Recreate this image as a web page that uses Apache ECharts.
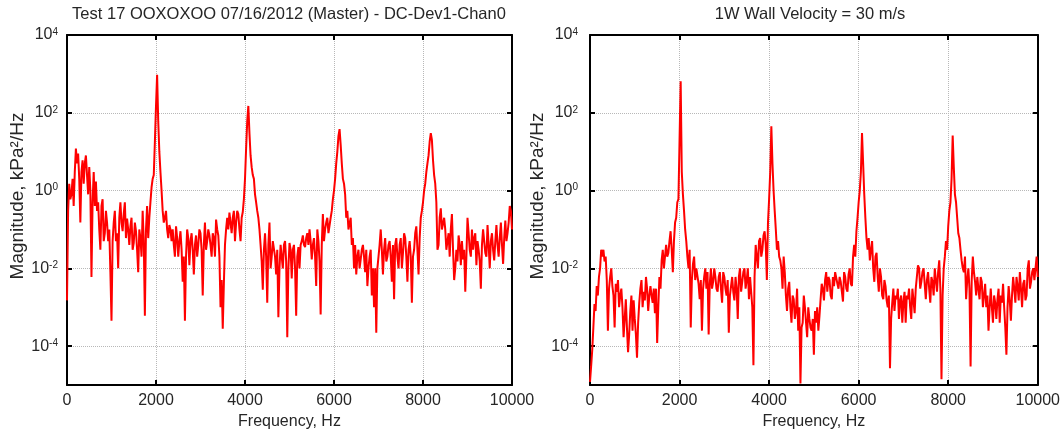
<!DOCTYPE html>
<html><head><meta charset="utf-8">
<script src="https://cdn.jsdelivr.net/npm/echarts@6/dist/echarts.min.js"></script>
<style>html,body{margin:0;padding:0;background:#fff}#c{width:1063px;height:435px}</style>
</head><body><div id="c"></div>
<script>
// Frequency grid (Hz)
const freqHz = [
  0,25,50,75,100,125,150,175,200,225,250,275,300,325,350,375,400,425,450,475,
  500,525,550,575,600,625,650,675,700,725,750,775,800,825,850,875,900,925,950,975,
  1000,1025,1050,1075,1100,1125,1150,1175,1200,1225,1250,1275,1300,1325,1350,1375,1400,1425,1450,1475,
  1500,1525,1550,1575,1600,1625,1650,1675,1700,1725,1750,1775,1800,1825,1850,1875,1900,1925,1950,1975,
  2000,2025,2050,2075,2100,2125,2150,2175,2200,2225,2250,2275,2300,2325,2350,2375,2400,2425,2450,2475,
  2500,2525,2550,2575,2600,2625,2650,2675,2700,2725,2750,2775,2800,2825,2850,2875,2900,2925,2950,2975,
  3000,3025,3050,3075,3100,3125,3150,3175,3200,3225,3250,3275,3300,3325,3350,3375,3400,3425,3450,3475,
  3500,3525,3550,3575,3600,3625,3650,3675,3700,3725,3750,3775,3800,3825,3850,3875,3900,3925,3950,3975,
  4000,4025,4050,4075,4100,4125,4150,4175,4200,4225,4250,4275,4300,4325,4350,4375,4400,4425,4450,4475,
  4500,4525,4550,4575,4600,4625,4650,4675,4700,4725,4750,4775,4800,4825,4850,4875,4900,4925,4950,4975,
  5000,5025,5050,5075,5100,5125,5150,5175,5200,5225,5250,5275,5300,5325,5350,5375,5400,5425,5450,5475,
  5500,5525,5550,5575,5600,5625,5650,5675,5700,5725,5750,5775,5800,5825,5850,5875,5900,5925,5950,5975,
  6000,6025,6050,6075,6100,6125,6150,6175,6200,6225,6250,6275,6300,6325,6350,6375,6400,6425,6450,6475,
  6500,6525,6550,6575,6600,6625,6650,6675,6700,6725,6750,6775,6800,6825,6850,6875,6900,6925,6950,6975,
  7000,7025,7050,7075,7100,7125,7150,7175,7200,7225,7250,7275,7300,7325,7350,7375,7400,7425,7450,7475,
  7500,7525,7550,7575,7600,7625,7650,7675,7700,7725,7750,7775,7800,7825,7850,7875,7900,7925,7950,7975,
  8000,8025,8050,8075,8100,8125,8150,8175,8200,8225,8250,8275,8300,8325,8350,8375,8400,8425,8450,8475,
  8500,8525,8550,8575,8600,8625,8650,8675,8700,8725,8750,8775,8800,8825,8850,8875,8900,8925,8950,8975,
  9000,9025,9050,9075,9100,9125,9150,9175,9200,9225,9250,9275,9300,9325,9350,9375,9400,9425,9450,9475,
  9500,9525,9550,9575,9600,9625,9650,9675,9700,9725,9750,9775,9800,9825,9850,9875,9900,9925,9950,9975,
  10000
];
// Left panel magnitude, kPa^2/Hz
const leftMag = [
  1.5e-3,0.3,1.5,0.6,0.8,2,0.4,3,12,5,9,2,0.15,3,6,1.5,5,8,2.5,0.8,
  4,1,6e-3,0.5,3,0.4,1.7,0.3,0.5,0.1,0.03,0.4,0.6,0.05,0.08,0.3,0.15,0.05,0.1,8e-3,
  4.5e-4,0.05,0.15,0.3,0.05,0.08,0.01,0.2,0.5,0.15,0.09,0.25,0.5,0.06,0.19,0.1,0.04,0.12,0.2,0.03,
  0.045,0.15,0.09,0.03,8e-3,0.1,0.06,0.02,0.3,0.05,6e-4,0.1,0.4,0.06,0.2,0.5,1.2,2,2.5,18,
  150,950,60,10,3,1,0.3,0.15,0.2,0.3,0.1,0.06,0.13,0.1,0.05,0.1,0.04,0.02,0.12,0.06,
  0.02,0.05,0.09,0.03,4.5e-3,0.02,4.5e-4,0.02,0.1,0.06,0.012,0.05,0.08,0.03,7e-3,0.04,0.07,0.02,0.04,0.1,
  0.08,0.03,2e-3,0.04,0.15,0.03,0.05,0.1,0.07,0.04,0.02,0.08,0.06,0.02,0.18,0.1,0.07,0.02,1e-3,5e-3,
  2.8e-4,4e-3,0.04,0.1,0.2,0.1,0.27,0.15,0.08,0.2,0.3,0.05,0.15,0.3,0.25,0.1,0.05,0.2,0.28,0.6,
  2,12,60,150,30,8,4,2.5,2,0.8,0.5,0.3,0.2,0.1,0.04,0.015,2.8e-3,0.03,0.08,0.02,
  1.3e-3,0.04,0.15,0.01,0.02,0.05,0.045,0.02,7e-3,0.03,5.5e-4,0.01,0.04,0.02,0.01,0.04,0.05,0.015,1.7e-4,0.01,
  0.045,0.03,5.5e-3,0.03,0.04,0.01,6e-4,0.02,0.035,0.01,0.04,0.05,0.07,0.04,0.035,0.06,0.08,0.04,0.1,0.05,
  0.017,0.04,0.06,0.02,3.5e-3,0.1,0.05,0.015,6.5e-4,0.04,0.25,0.05,0.1,0.15,0.2,0.08,0.09,0.2,0.3,0.6,
  1,2,5,10,25,38,15,5,2,1.5,0.8,0.2,0.3,0.1,0.09,0.2,0.04,0.06,0.01,0.04,
  7e-3,0.02,0.03,0.01,0.017,0.03,0.04,0.02,8e-3,0.03,3.5e-3,0.01,0.02,0.03,2e-3,0.01,1e-3,0.01,2.2e-4,0.01,
  0.02,0.04,0.1,0.03,7e-3,0.03,0.06,0.015,0.02,0.04,0.05,0.02,4.5e-3,0.04,1.6e-3,0.04,0.06,0.02,0.01,0.04,
  0.06,0.01,0.025,0.08,0.06,0.02,4.5e-3,0.03,0.05,0.02,1.3e-3,0.02,0.03,0.08,0.12,0.03,7e-3,0.06,0.2,0.3,
  0.5,1,1.5,3,5,8,18,30,20,6,2.5,1.5,0.5,0.03,0.04,0.2,0.35,0.1,0.1,0.2,
  0.1,0.03,0.05,0.08,0.02,0.1,0.25,0.03,5e-3,0.01,0.03,0.015,0.07,0.04,0.012,0.05,0.017,0.03,2.5e-3,0.02,
  0.2,0.08,0.03,0.02,0.1,0.03,0.06,0.08,0.012,0.05,0.03,0.015,3e-3,0.04,0.1,0.05,0.025,0.02,0.13,0.04,
  0.01,0.05,0.08,0.03,0.016,0.05,0.13,0.04,0.02,0.06,0.15,0.04,0.013,0.06,0.17,0.05,0.08,0.15,0.4,0.3,
  0.1
];
// Right panel magnitude, kPa^2/Hz
const rightMag = [
  1.2e-5,3e-5,8e-5,3e-4,1.2e-3,8e-4,3.5e-3,2e-3,6e-3,0.01,0.03,0.02,0.03,0.015,0.02,5e-3,2.5e-4,3e-3,6e-3,0.01,
  3.5e-3,2e-3,3e-4,4e-3,2.5e-3,5e-3,1e-3,2e-3,3e-3,1e-3,1.7e-4,5e-4,1.6e-3,3e-4,7e-5,2e-4,8e-4,2e-3,2.5e-4,1.5e-3,
  5e-4,2e-4,5e-5,4e-4,1.3e-3,3e-3,5e-3,1e-3,2.5e-3,1.5e-3,6e-3,3e-3,8e-4,2e-3,3.5e-3,2e-3,1.3e-3,3e-3,7e-4,3e-3,
  1.2e-4,1e-3,6e-3,3e-3,0.016,0.03,0.01,0.02,0.04,0.02,0.025,0.05,0.09,0.03,8e-3,0.05,0.15,0.2,0.5,0.6,
  20,650,3,0.8,0.3,0.1,0.05,0.02,0.01,0.03,3e-4,5e-3,0.013,0.02,5e-3,0.01,0.01,4e-3,1.6e-3,5e-3,
  2.5e-4,3e-3,6e-3,0.01,3e-3,8e-3,2e-4,4e-3,0.01,3e-3,4.5e-3,0.01,6e-3,3e-3,2.5e-3,6e-3,8e-3,3e-3,1.3e-3,8e-3,
  6e-3,3e-3,2e-3,5e-3,2.2e-4,2e-3,3.5e-3,6e-3,2.5e-3,1.5e-3,6e-3,3e-3,5e-4,6e-3,0.01,2.5e-3,4.5e-3,8e-3,0.01,3e-3,
  5e-3,0.01,1.6e-3,6e-3,6e-3,1e-3,3.2e-5,6e-3,0.04,0.02,0.01,0.05,0.06,0.02,0.03,0.07,0.09,0.04,5e-3,0.15,
  0.6,3,45,5,1,0.3,0.1,0.03,0.05,0.02,0.016,0.01,3e-3,0.02,8e-3,2e-3,8e-4,3e-3,4.5e-3,1e-3,
  4e-4,2e-3,1.6e-3,5e-4,8e-4,3e-3,2.5e-4,1e-3,1.1e-5,3e-4,4e-4,2e-3,1e-3,4e-4,1.7e-4,1e-3,5e-4,3e-4,2.5e-4,5e-4,
  6e-5,8e-4,4e-4,1e-3,2.5e-4,6e-4,1.6e-3,4e-3,3e-3,1.5e-3,5e-3,8e-3,2.5e-3,6e-3,5e-3,2e-3,1.6e-3,6e-3,3.5e-3,8e-3,
  8e-3,4e-3,3e-3,6e-3,4.5e-3,2.5e-3,1.4e-3,8e-3,6e-3,3e-3,2.5e-3,7e-3,0.01,4e-3,3.5e-3,0.02,0.04,0.02,0.09,0.2,
  0.5,1,3,30,5,0.8,0.2,0.06,0.03,0.06,0.016,0.03,0.05,0.01,4.5e-3,0.02,0.025,6e-3,2.5e-3,0.01,
  6e-3,2e-3,1.6e-3,5e-3,3.5e-3,1.5e-3,1e-3,2e-3,2.7e-5,5e-4,1.3e-3,3e-3,8e-4,2e-3,1.6e-3,3e-3,5e-4,1.5e-3,2e-3,4e-4,
  1.4e-3,2.5e-3,4e-4,2e-3,1.6e-3,3e-3,1e-3,5e-4,3e-3,1.5e-3,7e-4,3e-3,6e-3,0.012,0.01,3e-3,4.5e-3,8e-3,0.01,4e-3,
  1.6e-3,5e-3,8e-3,3e-3,1.3e-3,6e-3,4.5e-3,2e-3,0.01,5e-3,2.5e-3,8e-3,0.016,3e-3,1.4e-5,2e-3,0.01,0.02,0.05,0.03,
  0.12,0.3,0.5,2,26,4,0.8,0.5,0.2,0.08,0.06,0.03,0.016,0.01,8e-3,0.02,1.6e-3,5e-3,0.01,3e-3,
  3e-5,5e-3,0.02,8e-3,4.5e-3,2e-3,6e-3,3e-3,1.6e-3,6e-3,4.5e-3,1e-3,2e-3,4e-3,1e-3,2e-3,2.5e-4,1e-3,3e-3,1e-3,
  4e-4,2e-3,1.3e-3,5e-4,1.6e-3,3e-3,4e-4,2e-3,1.3e-3,4e-3,1e-3,3e-4,6e-5,1e-3,3.5e-3,1.5e-3,4.5e-4,2e-3,6e-3,3e-3,
  1.3e-3,6e-3,3.5e-3,1.5e-3,8e-3,3e-3,1e-3,4e-3,5e-3,1.5e-3,2e-3,0.01,0.016,3e-3,4.5e-3,8e-3,0.01,5e-3,0.01,0.02,
  6e-3
];
const xTickValues = [0, 2000, 4000, 6000, 8000, 10000];
const yTickValues = [1e-4, 1e-2, 1, 1e2, 1e4];
const leftTitle = 'Test 17 OOXOXOO 07/16/2012 (Master) - DC-Dev1-Chan0';
const rightTitle = '1W Wall Velocity = 30 m/s';
const xAxisName = 'Frequency, Hz';
const yAxisName = 'Magnitude, kPa\u00B2/Hz';

const FONT = '"Liberation Sans", Arial, sans-serif';
const TXT = '#262626';
const BLACK = '#000';
const GRIDC = '#b8b8b8';

function expLabel(v) {
  const e = Math.round(Math.log10(v));
  return '{b|10}{e|' + e + '}';
}

function xAxesFor(gi) {
  const common = {
    type: 'value', gridIndex: gi,
    min: xTickValues[0], max: xTickValues[xTickValues.length - 1],
    interval: xTickValues[1] - xTickValues[0],
    axisLine: { show: true, onZero: false, lineStyle: { color: BLACK, width: 2 } },
    axisTick: { show: true, inside: true, length: 5, lineStyle: { color: BLACK, width: 2 } }
  };
  return [
    Object.assign({}, common, {
      position: 'bottom',
      name: xAxisName, nameLocation: 'middle', nameGap: 29,
      nameTextStyle: { fontSize: 16, color: TXT, fontFamily: FONT },
      axisLabel: { show: true, margin: 8, fontSize: 16, color: TXT, fontFamily: FONT,
                   formatter: v => String(v) },
      splitLine: { show: true, lineStyle: { type: 'dotted', color: GRIDC, width: 1 } }
    }),
    Object.assign({}, common, {
      position: 'top',
      axisLabel: { show: false },
      splitLine: { show: false }
    })
  ];
}

function yAxesFor(gi, nameGap, labelMargin) {
  const common = {
    type: 'log', logBase: 10, gridIndex: gi, min: 1e-5, max: 1e4,
    axisLine: { show: true, onZero: false, lineStyle: { color: BLACK, width: 2 } },
    axisTick: { show: true, inside: true, length: 5, customValues: yTickValues,
                lineStyle: { color: BLACK, width: 2 } }
  };
  return [
    Object.assign({}, common, {
      position: 'left',
      name: yAxisName, nameLocation: 'middle', nameGap: nameGap, nameRotate: 90,
      nameTextStyle: { fontSize: 19, color: TXT, fontFamily: FONT, padding: [0, 0, 0, 28] },
      axisLabel: {
        show: true, margin: labelMargin, customValues: yTickValues, formatter: expLabel,
        rich: {
          b: { fontSize: 16, lineHeight: 16, color: TXT, fontFamily: FONT, verticalAlign: 'bottom' },
          e: { fontSize: 10, lineHeight: 7, color: TXT, fontFamily: FONT, verticalAlign: 'top' }
        }
      },
      splitLine: { show: true, lineStyle: { type: 'dotted', color: GRIDC, width: 1 } }
    }),
    Object.assign({}, common, {
      position: 'right',
      axisLabel: { show: false },
      splitLine: { show: false }
    })
  ];
}

function pairs(mags) { return freqHz.map((f, i) => [f, mags[i]]); }

const chart = echarts.init(document.getElementById('c'), null, { renderer: 'canvas' });
chart.setOption({
  animation: false,
  backgroundColor: '#fff',
  title: [
    { text: leftTitle, left: 289, top: 6, textAlign: 'center', padding: 0,
      textStyle: { fontSize: 16.5, fontWeight: 'normal', color: TXT, fontFamily: FONT } },
    { text: rightTitle, left: 810, top: 6, textAlign: 'center', padding: 0,
      textStyle: { fontSize: 16.5, fontWeight: 'normal', color: TXT, fontFamily: FONT } }
  ],
  grid: [
    { left: 67, top: 35, width: 445, height: 353 },
    { left: 590, top: 35, width: 448, height: 353 }
  ],
  xAxis: xAxesFor(0).concat(xAxesFor(1)),
  yAxis: yAxesFor(0, 33, 9).concat(yAxesFor(1, 29, 12)),
  series: [
    { type: 'line', xAxisIndex: 0, yAxisIndex: 0, data: pairs(leftMag),
      symbol: 'none', showSymbol: false, clip: true,
      lineStyle: { color: '#ff0000', width: 2 } },
    { type: 'line', xAxisIndex: 2, yAxisIndex: 2, data: pairs(rightMag),
      symbol: 'none', showSymbol: false, clip: true,
      lineStyle: { color: '#ff0000', width: 2 } }
  ]
});
</script>
</body></html>
